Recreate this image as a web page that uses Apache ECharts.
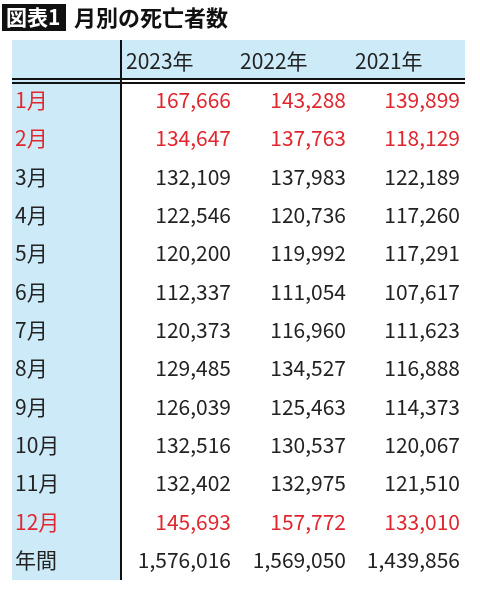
<!DOCTYPE html>
<html><head><meta charset="utf-8">
<script src="https://cdn.jsdelivr.net/npm/echarts@6/dist/echarts.min.js"></script>
<style>html,body{margin:0;background:#fff}#main{width:480px;height:592px}</style>
</head><body><div id="main"></div>
<script>
var years = ['2023年', '2022年', '2021年'];
var months = ['1月','2月','3月','4月','5月','6月','7月','8月','9月','10月','11月','12月','年間'];
var v2023 = [167666,134647,132109,122546,120200,112337,120373,129485,126039,132516,132402,145693,1576016];
var v2022 = [143288,137763,137983,120736,119992,111054,116960,134527,125463,130537,132975,157772,1569050];
var v2021 = [139899,118129,122189,117260,117291,107617,111623,116888,114373,120067,121510,133010,1439856];
var redRows = ['1月','2月','12月'];

var font = '"Noto Sans CJK JP", sans-serif';
var RED = '#e0262f', INK = '#222', BLUE = '#cdeaf8';
var rowY0 = 100, rowStep = 38.35;
var colRight = [231, 346, 460];
var headX = [126, 240, 355];

var els = [
    {type: 'rect', shape: {x: 2, y: 4, width: 64, height: 27}, style: {fill: '#111'}},
    {type: 'text', x: 6, y: 17.5, style: {text: '図表1', fill: '#fff', font: 'bold 21px ' + font, verticalAlign: 'middle'}},
    {type: 'text', x: 74, y: 17.5, style: {text: '月別の死亡者数', fill: '#111', font: 'bold 22px ' + font, verticalAlign: 'middle'}},
    {type: 'rect', shape: {x: 12, y: 40, width: 453, height: 38}, style: {fill: BLUE}},
    {type: 'rect', shape: {x: 12, y: 78, width: 108, height: 502}, style: {fill: BLUE}},
    {type: 'line', shape: {x1: 12, y1: 79, x2: 465, y2: 79}, style: {stroke: '#111', lineWidth: 2}},
    {type: 'line', shape: {x1: 12, y1: 83, x2: 465, y2: 83}, style: {stroke: '#111', lineWidth: 2}},
    {type: 'line', shape: {x1: 121, y1: 40, x2: 121, y2: 580}, style: {stroke: '#111', lineWidth: 2}}
];
years.forEach(function (y, i) {
    els.push({type: 'text', x: headX[i], y: 61, style: {text: y, fill: INK, font: '21px ' + font, verticalAlign: 'middle'}});
});
var cols = [v2023, v2022, v2021];
months.forEach(function (m, r) {
    var cy = rowY0 + r * rowStep;
    var c = redRows.indexOf(m) >= 0 ? RED : INK;
    els.push({type: 'text', x: 15, y: cy, style: {text: m, fill: c, font: '21px ' + font, verticalAlign: 'middle'}});
    cols.forEach(function (arr, k) {
        els.push({type: 'text', x: colRight[k], y: cy, style: {text: arr[r].toLocaleString('en-US'), fill: c, font: '21px ' + font, align: 'right', verticalAlign: 'middle'}});
    });
});

var chart = echarts.init(document.getElementById('main'));
chart.setOption({backgroundColor: '#fff', graphic: els});
</script></body></html>
